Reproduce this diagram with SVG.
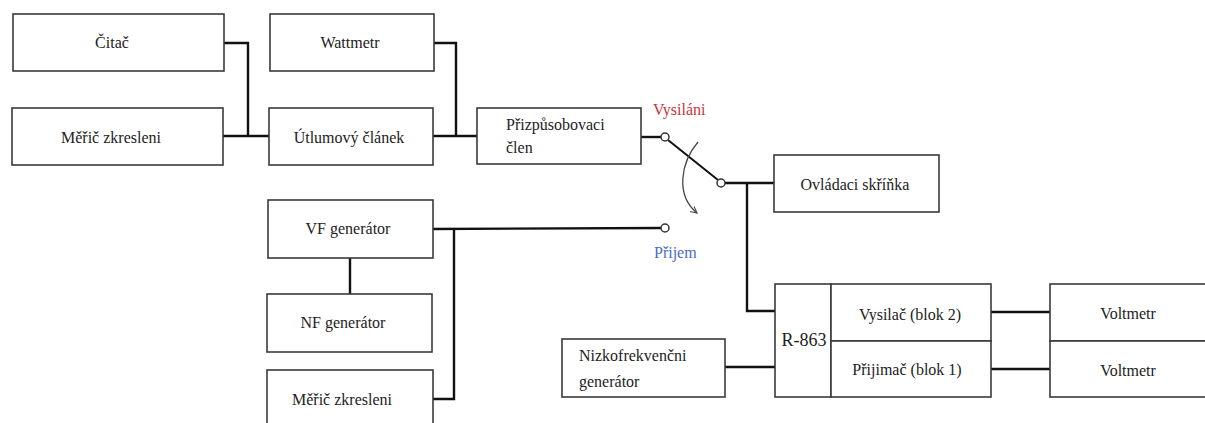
<svg xmlns="http://www.w3.org/2000/svg" width="1205" height="423" viewBox="0 0 1205 423">
<defs>
<style>
.box{fill:#fff;stroke:#3a3a3a;stroke-width:1.6}
.t{font-family:"Liberation Serif",serif;font-size:16px;fill:#222}
.c{text-anchor:middle}
.w{fill:none;stroke:#111;stroke-width:2.4}
.pin{fill:#fff;stroke:#333;stroke-width:1.5}
</style>
<marker id="ah" viewBox="0 0 10 10" refX="9" refY="5" markerWidth="8" markerHeight="8" orient="auto" markerUnits="userSpaceOnUse">
<path d="M1,1 L9,5 L1,9" fill="none" stroke="#444" stroke-width="1.3"/>
</marker>
</defs>
<rect width="1205" height="423" fill="#fff"/>
<g id="connectors">
<polyline class="w" points="224,43 248,43 248,136"/>
<line class="w" x1="223" y1="136" x2="269" y2="136"/>
<polyline class="w" points="434,43 456,43 456,136"/>
<line class="w" x1="433" y1="136" x2="477" y2="136"/>
<line class="w" x1="641" y1="137" x2="661" y2="137"/>
<line x1="668" y1="140" x2="718" y2="180" stroke="#111" stroke-width="2"/>
<line class="w" x1="725" y1="183" x2="774" y2="183"/>
<polyline class="w" points="747,183 747,311 775,311"/>
<line class="w" x1="433" y1="229" x2="661" y2="228"/>
<polyline class="w" points="433,399 454,399 454,229"/>
<line class="w" x1="350" y1="258" x2="350" y2="294"/>
<line class="w" x1="725" y1="367" x2="775" y2="367"/>
<line class="w" x1="991" y1="312" x2="1050" y2="312"/>
<line class="w" x1="991" y1="369" x2="1050" y2="369"/>
<circle class="pin" cx="665" cy="137" r="4"/>
<circle class="pin" cx="721" cy="183" r="4"/>
<circle class="pin" cx="665" cy="228" r="4"/>
<path d="M698,142 C681,162 675,195 697,213" fill="none" stroke="#444" stroke-width="1.3" marker-end="url(#ah)"/>
</g>
<g id="label-vysilani"><text class="t" x="653" y="115" style="fill:#c8343c">Vysiláni</text></g>
<g id="label-prijem"><text class="t" x="654" y="258" style="fill:#4a6cc4">Přijem</text></g>
<g id="citac"><rect class="box" x="13" y="14" width="211" height="57"/><text class="t c" x="112" y="48">Čitač</text></g>
<g id="meric1"><rect class="box" x="12" y="108" width="211" height="57"/><text class="t c" x="111" y="143">Měřič zkresleni</text></g>
<g id="wattmetr"><rect class="box" x="270" y="14" width="164" height="57"/><text class="t c" x="350" y="48">Wattmetr</text></g>
<g id="utlumovy"><rect class="box" x="269" y="108" width="164" height="57"/><text class="t c" x="349" y="143">Útlumový článek</text></g>
<g id="prizpusobovaci"><rect class="box" x="477" y="108" width="164" height="56"/><text class="t" x="506" y="130">Přizpůsobovaci</text><text class="t" x="506" y="153">člen</text></g>
<g id="ovladaci"><rect class="box" x="774" y="155" width="165" height="57"/><text class="t c" x="855" y="190">Ovládaci skříňka</text></g>
<g id="vf"><rect class="box" x="268" y="200" width="165" height="58"/><text class="t c" x="348" y="234">VF generátor</text></g>
<g id="nf"><rect class="box" x="267" y="294" width="165" height="58"/><text class="t c" x="343" y="328">NF generátor</text></g>
<g id="meric2"><rect class="box" x="267" y="370" width="166" height="60"/><text class="t c" x="342" y="405">Měřič zkresleni</text></g>
<g id="nizkofrekvencni"><rect class="box" x="562" y="339" width="163" height="58"/><text class="t" x="579" y="361">Nizkofrekvenčni</text><text class="t" x="579" y="387">generátor</text></g>
<g id="r863"><rect class="box" x="775" y="284" width="56" height="113"/><text class="t c" x="804" y="346" style="font-size:18px">R-863</text></g>
<g id="vysilac"><rect class="box" x="831" y="284" width="160" height="57"/><text class="t c" x="910" y="320">Vysilač (blok 2)</text></g>
<g id="prijimac"><rect class="box" x="831" y="341" width="160" height="56"/><text class="t c" x="907" y="375">Přijimač (blok 1)</text></g>
<g id="voltmetr1"><rect class="box" x="1050" y="284" width="160" height="57"/><text class="t c" x="1128" y="319">Voltmetr</text></g>
<g id="voltmetr2"><rect class="box" x="1050" y="341" width="160" height="56"/><text class="t c" x="1128" y="376">Voltmetr</text></g>
</svg>
